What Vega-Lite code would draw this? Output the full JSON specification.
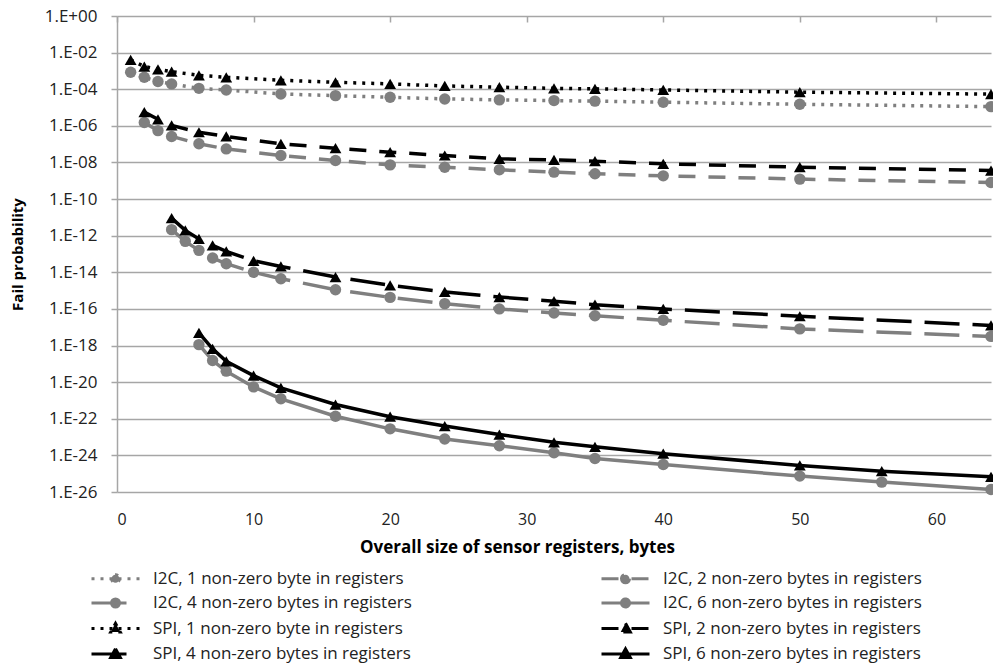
{
  "$schema": "https://vega.github.io/schema/vega-lite/v6.json",
  "width": 874,
  "height": 476,
  "autosize": {"type": "none"},
  "padding": {"left": 117, "top": 16, "right": 2, "bottom": 174},
  "background": "white",
  "config": {"font": "Open Sans", "view": {"stroke": null}},
  "data": {"values": [
    {"series": "SPI, 1 non-zero byte in registers", "size": 1, "prob": 3.98e-3},
    {"series": "SPI, 1 non-zero byte in registers", "size": 2, "prob": 1.74e-3},
    {"series": "SPI, 1 non-zero byte in registers", "size": 3, "prob": 1.23e-3},
    {"series": "SPI, 1 non-zero byte in registers", "size": 4, "prob": 9.1e-4},
    {"series": "SPI, 1 non-zero byte in registers", "size": 6, "prob": 5.75e-4},
    {"series": "SPI, 1 non-zero byte in registers", "size": 8, "prob": 4.47e-4},
    {"series": "SPI, 1 non-zero byte in registers", "size": 12, "prob": 3.09e-4},
    {"series": "SPI, 1 non-zero byte in registers", "size": 16, "prob": 2.40e-4},
    {"series": "SPI, 1 non-zero byte in registers", "size": 20, "prob": 1.95e-4},
    {"series": "SPI, 1 non-zero byte in registers", "size": 24, "prob": 1.51e-4},
    {"series": "SPI, 1 non-zero byte in registers", "size": 28, "prob": 1.29e-4},
    {"series": "SPI, 1 non-zero byte in registers", "size": 32, "prob": 1.12e-4},
    {"series": "SPI, 1 non-zero byte in registers", "size": 35, "prob": 1.05e-4},
    {"series": "SPI, 1 non-zero byte in registers", "size": 40, "prob": 9.1e-5},
    {"series": "SPI, 1 non-zero byte in registers", "size": 50, "prob": 6.9e-5},
    {"series": "SPI, 1 non-zero byte in registers", "size": 64, "prob": 5.4e-5},

    {"series": "I2C, 1 non-zero byte in registers", "size": 1, "prob": 8.5e-4},
    {"series": "I2C, 1 non-zero byte in registers", "size": 2, "prob": 4.47e-4},
    {"series": "I2C, 1 non-zero byte in registers", "size": 3, "prob": 2.63e-4},
    {"series": "I2C, 1 non-zero byte in registers", "size": 4, "prob": 1.95e-4},
    {"series": "I2C, 1 non-zero byte in registers", "size": 6, "prob": 1.12e-4},
    {"series": "I2C, 1 non-zero byte in registers", "size": 8, "prob": 9.1e-5},
    {"series": "I2C, 1 non-zero byte in registers", "size": 12, "prob": 5.5e-5},
    {"series": "I2C, 1 non-zero byte in registers", "size": 16, "prob": 4.47e-5},
    {"series": "I2C, 1 non-zero byte in registers", "size": 20, "prob": 3.63e-5},
    {"series": "I2C, 1 non-zero byte in registers", "size": 24, "prob": 2.95e-5},
    {"series": "I2C, 1 non-zero byte in registers", "size": 28, "prob": 2.63e-5},
    {"series": "I2C, 1 non-zero byte in registers", "size": 32, "prob": 2.40e-5},
    {"series": "I2C, 1 non-zero byte in registers", "size": 35, "prob": 2.24e-5},
    {"series": "I2C, 1 non-zero byte in registers", "size": 40, "prob": 1.95e-5},
    {"series": "I2C, 1 non-zero byte in registers", "size": 50, "prob": 1.51e-5},
    {"series": "I2C, 1 non-zero byte in registers", "size": 64, "prob": 1.12e-5},

    {"series": "SPI, 2 non-zero bytes in registers", "size": 2, "prob": 5.6e-6},
    {"series": "SPI, 2 non-zero bytes in registers", "size": 3, "prob": 2.29e-6},
    {"series": "SPI, 2 non-zero bytes in registers", "size": 4, "prob": 1.05e-6},
    {"series": "SPI, 2 non-zero bytes in registers", "size": 6, "prob": 4.47e-7},
    {"series": "SPI, 2 non-zero bytes in registers", "size": 8, "prob": 2.63e-7},
    {"series": "SPI, 2 non-zero bytes in registers", "size": 12, "prob": 1.05e-7},
    {"series": "SPI, 2 non-zero bytes in registers", "size": 16, "prob": 6.0e-8},
    {"series": "SPI, 2 non-zero bytes in registers", "size": 20, "prob": 3.63e-8},
    {"series": "SPI, 2 non-zero bytes in registers", "size": 24, "prob": 2.40e-8},
    {"series": "SPI, 2 non-zero bytes in registers", "size": 28, "prob": 1.58e-8},
    {"series": "SPI, 2 non-zero bytes in registers", "size": 32, "prob": 1.38e-8},
    {"series": "SPI, 2 non-zero bytes in registers", "size": 35, "prob": 1.17e-8},
    {"series": "SPI, 2 non-zero bytes in registers", "size": 40, "prob": 8.5e-9},
    {"series": "SPI, 2 non-zero bytes in registers", "size": 50, "prob": 5.5e-9},
    {"series": "SPI, 2 non-zero bytes in registers", "size": 64, "prob": 3.63e-9},

    {"series": "I2C, 2 non-zero bytes in registers", "size": 2, "prob": 1.51e-6},
    {"series": "I2C, 2 non-zero bytes in registers", "size": 3, "prob": 5.5e-7},
    {"series": "I2C, 2 non-zero bytes in registers", "size": 4, "prob": 2.63e-7},
    {"series": "I2C, 2 non-zero bytes in registers", "size": 6, "prob": 1.05e-7},
    {"series": "I2C, 2 non-zero bytes in registers", "size": 8, "prob": 5.5e-8},
    {"series": "I2C, 2 non-zero bytes in registers", "size": 12, "prob": 2.40e-8},
    {"series": "I2C, 2 non-zero bytes in registers", "size": 16, "prob": 1.29e-8},
    {"series": "I2C, 2 non-zero bytes in registers", "size": 20, "prob": 7.4e-9},
    {"series": "I2C, 2 non-zero bytes in registers", "size": 24, "prob": 5.5e-9},
    {"series": "I2C, 2 non-zero bytes in registers", "size": 28, "prob": 3.98e-9},
    {"series": "I2C, 2 non-zero bytes in registers", "size": 32, "prob": 2.95e-9},
    {"series": "I2C, 2 non-zero bytes in registers", "size": 35, "prob": 2.40e-9},
    {"series": "I2C, 2 non-zero bytes in registers", "size": 40, "prob": 1.86e-9},
    {"series": "I2C, 2 non-zero bytes in registers", "size": 50, "prob": 1.23e-9},
    {"series": "I2C, 2 non-zero bytes in registers", "size": 64, "prob": 8.1e-10},

    {"series": "SPI, 4 non-zero bytes in registers", "size": 4, "prob": 9.1e-12},
    {"series": "SPI, 4 non-zero bytes in registers", "size": 5, "prob": 1.95e-12},
    {"series": "SPI, 4 non-zero bytes in registers", "size": 6, "prob": 6.6e-13},
    {"series": "SPI, 4 non-zero bytes in registers", "size": 7, "prob": 2.95e-13},
    {"series": "SPI, 4 non-zero bytes in registers", "size": 8, "prob": 1.38e-13},
    {"series": "SPI, 4 non-zero bytes in registers", "size": 10, "prob": 4.27e-14},
    {"series": "SPI, 4 non-zero bytes in registers", "size": 12, "prob": 2.09e-14},
    {"series": "SPI, 4 non-zero bytes in registers", "size": 16, "prob": 5.5e-15},
    {"series": "SPI, 4 non-zero bytes in registers", "size": 20, "prob": 1.95e-15},
    {"series": "SPI, 4 non-zero bytes in registers", "size": 24, "prob": 8.5e-16},
    {"series": "SPI, 4 non-zero bytes in registers", "size": 28, "prob": 4.47e-16},
    {"series": "SPI, 4 non-zero bytes in registers", "size": 32, "prob": 2.63e-16},
    {"series": "SPI, 4 non-zero bytes in registers", "size": 35, "prob": 1.70e-16},
    {"series": "SPI, 4 non-zero bytes in registers", "size": 40, "prob": 1.0e-16},
    {"series": "SPI, 4 non-zero bytes in registers", "size": 50, "prob": 3.98e-17},
    {"series": "SPI, 4 non-zero bytes in registers", "size": 64, "prob": 1.26e-17},

    {"series": "I2C, 4 non-zero bytes in registers", "size": 4, "prob": 2.14e-12},
    {"series": "I2C, 4 non-zero bytes in registers", "size": 5, "prob": 4.9e-13},
    {"series": "I2C, 4 non-zero bytes in registers", "size": 6, "prob": 1.58e-13},
    {"series": "I2C, 4 non-zero bytes in registers", "size": 7, "prob": 6.0e-14},
    {"series": "I2C, 4 non-zero bytes in registers", "size": 8, "prob": 2.95e-14},
    {"series": "I2C, 4 non-zero bytes in registers", "size": 10, "prob": 1.0e-14},
    {"series": "I2C, 4 non-zero bytes in registers", "size": 12, "prob": 4.47e-15},
    {"series": "I2C, 4 non-zero bytes in registers", "size": 16, "prob": 1.12e-15},
    {"series": "I2C, 4 non-zero bytes in registers", "size": 20, "prob": 4.27e-16},
    {"series": "I2C, 4 non-zero bytes in registers", "size": 24, "prob": 1.95e-16},
    {"series": "I2C, 4 non-zero bytes in registers", "size": 28, "prob": 1.0e-16},
    {"series": "I2C, 4 non-zero bytes in registers", "size": 32, "prob": 6.0e-17},
    {"series": "I2C, 4 non-zero bytes in registers", "size": 35, "prob": 4.27e-17},
    {"series": "I2C, 4 non-zero bytes in registers", "size": 40, "prob": 2.40e-17},
    {"series": "I2C, 4 non-zero bytes in registers", "size": 50, "prob": 8.1e-18},
    {"series": "I2C, 4 non-zero bytes in registers", "size": 64, "prob": 3.16e-18},

    {"series": "SPI, 6 non-zero bytes in registers", "size": 6, "prob": 4.9e-18},
    {"series": "SPI, 6 non-zero bytes in registers", "size": 7, "prob": 6.6e-19},
    {"series": "SPI, 6 non-zero bytes in registers", "size": 8, "prob": 1.38e-19},
    {"series": "SPI, 6 non-zero bytes in registers", "size": 10, "prob": 2.29e-20},
    {"series": "SPI, 6 non-zero bytes in registers", "size": 12, "prob": 4.9e-21},
    {"series": "SPI, 6 non-zero bytes in registers", "size": 16, "prob": 6.0e-22},
    {"series": "SPI, 6 non-zero bytes in registers", "size": 20, "prob": 1.29e-22},
    {"series": "SPI, 6 non-zero bytes in registers", "size": 24, "prob": 3.98e-23},
    {"series": "SPI, 6 non-zero bytes in registers", "size": 28, "prob": 1.38e-23},
    {"series": "SPI, 6 non-zero bytes in registers", "size": 32, "prob": 5.2e-24},
    {"series": "SPI, 6 non-zero bytes in registers", "size": 35, "prob": 2.95e-24},
    {"series": "SPI, 6 non-zero bytes in registers", "size": 40, "prob": 1.23e-24},
    {"series": "SPI, 6 non-zero bytes in registers", "size": 50, "prob": 2.82e-25},
    {"series": "SPI, 6 non-zero bytes in registers", "size": 56, "prob": 1.38e-25},
    {"series": "SPI, 6 non-zero bytes in registers", "size": 64, "prob": 6.8e-26},

    {"series": "I2C, 6 non-zero bytes in registers", "size": 6, "prob": 1.12e-18},
    {"series": "I2C, 6 non-zero bytes in registers", "size": 7, "prob": 1.51e-19},
    {"series": "I2C, 6 non-zero bytes in registers", "size": 8, "prob": 3.98e-20},
    {"series": "I2C, 6 non-zero bytes in registers", "size": 10, "prob": 5.5e-21},
    {"series": "I2C, 6 non-zero bytes in registers", "size": 12, "prob": 1.23e-21},
    {"series": "I2C, 6 non-zero bytes in registers", "size": 16, "prob": 1.38e-22},
    {"series": "I2C, 6 non-zero bytes in registers", "size": 20, "prob": 2.82e-23},
    {"series": "I2C, 6 non-zero bytes in registers", "size": 24, "prob": 7.9e-24},
    {"series": "I2C, 6 non-zero bytes in registers", "size": 28, "prob": 3.39e-24},
    {"series": "I2C, 6 non-zero bytes in registers", "size": 32, "prob": 1.38e-24},
    {"series": "I2C, 6 non-zero bytes in registers", "size": 35, "prob": 6.8e-25},
    {"series": "I2C, 6 non-zero bytes in registers", "size": 40, "prob": 3.16e-25},
    {"series": "I2C, 6 non-zero bytes in registers", "size": 50, "prob": 7.4e-26},
    {"series": "I2C, 6 non-zero bytes in registers", "size": 56, "prob": 3.47e-26},
    {"series": "I2C, 6 non-zero bytes in registers", "size": 64, "prob": 1.38e-26}
  ]},
  "encoding": {
    "x": {
      "field": "size", "type": "quantitative",
      "scale": {"domain": [0, 64], "nice": false, "zero": false},
      "axis": {
        "orient": "top", "offset": -6, "values": [0, 10, 20, 30, 40, 50, 60],
        "grid": false, "domain": false,
        "ticks": true, "tickSize": 6, "tickColor": "#a6a6a6", "tickWidth": 1.5,
        "labelFontSize": 16, "labelPadding": -503, "labelBaseline": "middle", "labelColor": "#222222",
        "title": "Overall size of sensor registers, bytes",
        "titleFontSize": 17, "titleFontWeight": "bold", "titleColor": "#000000",
        "titleX": 400, "titleY": 525, "titleBaseline": "middle", "titleAlign": "center"
      }
    },
    "y": {
      "field": "prob", "type": "quantitative",
      "scale": {"type": "log", "domain": [1e-26, 1], "nice": false},
      "axis": {
        "values": [1, 1e-2, 1e-4, 1e-6, 1e-8, 1e-10, 1e-12, 1e-14, 1e-16, 1e-18, 1e-20, 1e-22, 1e-24, 1e-26],
        "labelExpr": "'1.E' + (datum.value >= 1 ? '+' : '-') + (abs(round(log(datum.value)/LN10)) < 10 ? '0' : '') + abs(round(log(datum.value)/LN10))",
        "grid": true, "gridColor": "#a6a6a6", "gridWidth": 1.5,
        "domainColor": "#a6a6a6", "domainWidth": 1.5,
        "tickColor": "#a6a6a6", "tickSize": 6, "tickWidth": 1.5,
        "labelFontSize": 17, "labelPadding": 14, "labelColor": "#222222",
        "title": "Fail probability", "titleFontSize": 15, "titleFontWeight": "bold", "titleColor": "#000000",
        "titleX": -100, "titleY": 238, "titleAngle": -90, "titleBaseline": "middle", "titleAlign": "center"
      }
    },
    "color": {
      "field": "series", "type": "nominal",
      "scale": {"range": ["#7f7f7f", "#7f7f7f", "#7f7f7f", "#7f7f7f", "#000000", "#000000", "#000000", "#000000"]},
      "legend": null
    }
  },
  "layer": [
    {
      "transform": [{"filter": "indexof(datum.series, ' 1 non-zero') > 0"}],
      "mark": {"type": "line", "strokeWidth": 3.5, "strokeDash": [3, 6], "clip": false}
    },
    {
      "transform": [{"filter": "indexof(datum.series, ' 2 non-zero') > 0"}],
      "mark": {"type": "line", "strokeWidth": 3.5, "strokeDash": [17, 13], "clip": false}
    },
    {
      "transform": [{"filter": "indexof(datum.series, ' 4 non-zero') > 0"}],
      "mark": {"type": "line", "strokeWidth": 3.5, "strokeDash": [35, 13], "clip": false}
    },
    {
      "transform": [{"filter": "indexof(datum.series, ' 6 non-zero') > 0"}],
      "mark": {"type": "line", "strokeWidth": 3.5, "clip": false}
    },
    {
      "transform": [{"filter": "indexof(datum.series, 'I2C') === 0"}],
      "mark": {"type": "point", "shape": "circle", "filled": true, "opacity": 1, "size": 130, "clip": false}
    },
    {
      "transform": [{"filter": "indexof(datum.series, 'SPI') === 0"}],
      "mark": {"type": "point", "shape": "triangle-up", "filled": true, "opacity": 1, "size": 140, "clip": false}
    },
    {
      "transform": [{"filter": "datum.size < 0"}],
      "mark": {"type": "point", "filled": true, "opacity": 1, "strokeWidth": 3},
      "encoding": {
        "color": {"value": "#000000"},
        "shape": {
          "field": "series", "type": "nominal",
          "scale": {
            "domain": ["I2C, 1 non-zero byte in registers", "I2C, 2 non-zero bytes in registers", "I2C, 4 non-zero bytes in registers", "I2C, 6 non-zero bytes in registers", "SPI, 1 non-zero byte in registers", "SPI, 2 non-zero bytes in registers", "SPI, 4 non-zero bytes in registers", "SPI, 6 non-zero bytes in registers"],
            "range": [
              "M-3,0H3M0.5,0A0.5,0.5,0,1,1,-0.5,0A0.5,0.5,0,1,1,0.5,0Z",
              "M-3,0H3M0.5,0A0.5,0.5,0,1,1,-0.5,0A0.5,0.5,0,1,1,0.5,0Z",
              "M-3,0H3M0.5,0A0.5,0.5,0,1,1,-0.5,0A0.5,0.5,0,1,1,0.5,0Z",
              "M-3,0H3M0.5,0A0.5,0.5,0,1,1,-0.5,0A0.5,0.5,0,1,1,0.5,0Z",
              "M-3,0H3M0,-0.65L0.6,0.45L-0.6,0.45Z",
              "M-3,0H3M0,-0.65L0.6,0.45L-0.6,0.45Z",
              "M-3,0H3M0,-0.65L0.6,0.45L-0.6,0.45Z",
              "M-3,0H3M0,-0.65L0.6,0.45L-0.6,0.45Z"
            ]
          },
          "legend": {
            "orient": "none", "legendX": -11, "legendY": 553, "direction": "horizontal",
            "columns": 2, "columnPadding": 183, "rowPadding": 3.5,
            "title": null, "padding": 0,
            "symbolSize": 256, "symbolStrokeWidth": 3, "symbolOpacity": 1,
            "labelFontSize": 17, "labelOffset": 28, "labelLimit": 400, "labelColor": "#222222"
          }
        },
        "fill": {
          "field": "series", "type": "nominal",
          "scale": {
            "domain": ["I2C, 1 non-zero byte in registers", "I2C, 2 non-zero bytes in registers", "I2C, 4 non-zero bytes in registers", "I2C, 6 non-zero bytes in registers", "SPI, 1 non-zero byte in registers", "SPI, 2 non-zero bytes in registers", "SPI, 4 non-zero bytes in registers", "SPI, 6 non-zero bytes in registers"],
            "range": ["#7f7f7f", "#7f7f7f", "#7f7f7f", "#7f7f7f", "#000000", "#000000", "#000000", "#000000"]
          }
        },
        "stroke": {
          "field": "series", "type": "nominal",
          "scale": {
            "domain": ["I2C, 1 non-zero byte in registers", "I2C, 2 non-zero bytes in registers", "I2C, 4 non-zero bytes in registers", "I2C, 6 non-zero bytes in registers", "SPI, 1 non-zero byte in registers", "SPI, 2 non-zero bytes in registers", "SPI, 4 non-zero bytes in registers", "SPI, 6 non-zero bytes in registers"],
            "range": ["#7f7f7f", "#7f7f7f", "#7f7f7f", "#7f7f7f", "#000000", "#000000", "#000000", "#000000"]
          }
        },
        "strokeDash": {
          "field": "series", "type": "nominal",
          "scale": {
            "domain": ["I2C, 1 non-zero byte in registers", "I2C, 2 non-zero bytes in registers", "I2C, 4 non-zero bytes in registers", "I2C, 6 non-zero bytes in registers", "SPI, 1 non-zero byte in registers", "SPI, 2 non-zero bytes in registers", "SPI, 4 non-zero bytes in registers", "SPI, 6 non-zero bytes in registers"],
            "range": [[3, 6], [17, 13], [35, 13], [1, 0], [3, 6], [17, 13], [35, 13], [1, 0]]
          }
        }
      }
    }
  ]
}
